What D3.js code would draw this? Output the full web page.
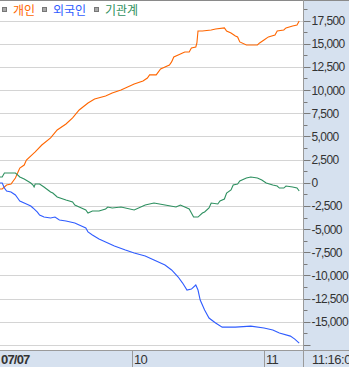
<!DOCTYPE html>
<html>
<head>
<meta charset="utf-8">
<script src="https://cdn.jsdelivr.net/npm/d3@7"></script>
<style>
  body { margin: 0; background: #fff; }
  svg { display: block; }
</style>
</head>
<body>
<svg id="chart" width="349" height="367"></svg>
<script>
// minutes since 09:00 / net buying value
const orange_t = [0, 1, 3, 5, 7, 8, 9, 11, 12, 16, 19, 23, 26, 30, 33, 36, 40, 43, 48, 51, 55, 58, 61, 65, 67, 68, 71, 73, 75, 77, 78, 79, 81, 83, 84, 86, 87, 89, 89.5, 90, 92, 96, 98, 102, 103, 105, 107, 108, 109, 112, 117, 118, 120, 122, 125, 126, 129, 130, 133, 135, 136];
const orange_v = [-670, -670, -240, -130, 510, 1050, 1590, 1910, 2450, 3320, 4070, 4830, 5690, 6340, 6990, 7850, 8600, 9040, 9360, 9680, 10010, 10330, 10650, 10980, 11300, 11630, 11630, 12270, 12490, 12700, 13030, 13570, 13780, 14000, 14110, 14110, 14540, 14650, 15080, 16370, 16370, 16480, 16590, 16700, 16370, 16160, 15830, 15730, 15190, 14860, 14860, 15080, 15400, 15730, 15940, 16370, 16480, 16700, 16910, 17020, 17450];

const blue_t = [0, 1, 2, 3, 5, 7, 8, 9, 11, 14, 15, 17, 18, 20, 23, 25, 27, 30, 32, 34, 36, 39, 40, 42, 45, 48, 52, 57, 61, 66, 70, 75, 78, 81, 83, 85, 87, 89, 90, 91, 93, 95, 98, 101, 107, 114, 120, 124, 127, 132, 134, 136];
const blue_v = [-30, -30, -570, -890, -1000, -1320, -1650, -1970, -2190, -2510, -2720, -3160, -3480, -3700, -3800, -3700, -4020, -4130, -4240, -4340, -4560, -4880, -5310, -5640, -6070, -6390, -6830, -7260, -7580, -7900, -8340, -8880, -9410, -10170, -10820, -11570, -11470, -11030, -11570, -12650, -13730, -14590, -15130, -15570, -15570, -15460, -15670, -15890, -16210, -16540, -16860, -17290];

const green_t = [0, 1, 2, 4, 5, 7, 8, 9, 11, 14, 15, 15.5, 16, 18, 20, 23, 24, 26, 30, 33, 34, 36, 39, 40, 42, 45, 48, 49, 51, 55, 61, 66, 70, 75, 80, 82, 84, 86, 88, 90, 92, 93, 95, 96, 99, 100, 102, 103, 105, 106, 108, 109, 112, 114, 117, 119, 121, 124, 126, 127, 129, 130, 133, 135, 136];
const green_v = [620, 620, 1050, 1050, 1050, 1050, 840, 620, 400, -30, -240, -460, -140, -140, -460, -1000, -1110, -1540, -1860, -2080, -2400, -2620, -2940, -3260, -3050, -3050, -2830, -2620, -2720, -2620, -2940, -2400, -2190, -2400, -2620, -2400, -2620, -2830, -3700, -3700, -3260, -3150, -2720, -2190, -2290, -1970, -1750, -1110, -780, -240, -140, 190, 510, 620, 510, 300, -30, -240, -350, -570, -570, -350, -460, -570, -890];

const series_names = ["개인", "외국인", "기관계"];
const series_colors = ["#ff6600", "#2f5cff", "#2e9060"];

const y_ticks = [-17500, -15000, -12500, -10000, -7500, -5000, -2500, 0, 2500, 5000, 7500, 10000, 12500, 15000, 17500];
const x_ticks = [0, 60, 120];
const x_labels = ["07/07", "10", "11"];
const last_time = "11:16:00";

const W = 349, H = 367;
const plotRight = 303, plotBottom = 350;

const svg = d3.select("#chart");

const x = d3.scaleLinear().domain([0, 60]).range([0, 132]);
const y = d3.scaleLinear().domain([-17500, 17500]).range([345, 20.5]);

// right axis panel + bottom band
svg.append("rect").attr("x", plotRight + 1).attr("y", 0).attr("width", W - plotRight - 1).attr("height", H).attr("fill", "#d6e1ef");
svg.append("rect").attr("x", 0).attr("y", plotBottom + 1).attr("width", W).attr("height", H - plotBottom - 1).attr("fill", "#d6e1ef");

// gridlines
svg.append("g").selectAll("line")
    .data(y_ticks)
    .enter().append("line")
    .attr("x1", 0).attr("x2", plotRight)
    .attr("y1", d => Math.round(y(d)) + 0.5).attr("y2", d => Math.round(y(d)) + 0.5)
    .attr("stroke", "#d4d4d4");

// right axis
const minor = d3.range(-16250, 19000, 2500);
const axisG = svg.append("g").attr("transform", `translate(${plotRight + 0.5},0)`);
axisG.selectAll(".minor").data(minor).enter().append("line")
    .attr("x1", 0).attr("x2", 4)
    .attr("y1", d => Math.round(y(d)) + 0.5).attr("y2", d => Math.round(y(d)) + 0.5)
    .attr("stroke", "#7a7a7a");
axisG.selectAll(".major").data(y_ticks).enter().append("line")
    .attr("x1", 0).attr("x2", 7)
    .attr("y1", d => Math.round(y(d)) + 0.5).attr("y2", d => Math.round(y(d)) + 0.5)
    .attr("stroke", "#7a7a7a");
axisG.selectAll("text").data(y_ticks.filter(d => d > -17500)).enter().append("text")
    .attr("x", 8)
    .attr("y", d => y(d) + 4.5)
    .attr("font-family", "Liberation Sans, Arial, sans-serif")
    .attr("font-size", 12)
    .attr("letter-spacing", -0.6)
    .attr("fill", "#333")
    .text(d => d3.format(",")(d).replace("−", "-"));

// frame lines
svg.append("line").attr("x1", 0).attr("x2", W).attr("y1", 0.5).attr("y2", 0.5).attr("stroke", "#8a8a8a");
svg.append("line").attr("x1", plotRight + 0.5).attr("x2", plotRight + 0.5).attr("y1", 0).attr("y2", H).attr("stroke", "#9a9a9a");
svg.append("line").attr("x1", 0).attr("x2", W).attr("y1", plotBottom + 0.5).attr("y2", plotBottom + 0.5).attr("stroke", "#9a9a9a");

// x axis labels
const xg = svg.append("g");
xg.selectAll("line").data(x_ticks.filter(d => d > 0)).enter().append("line")
    .attr("x1", d => x(d) + 0.5).attr("x2", d => x(d) + 0.5)
    .attr("y1", plotBottom).attr("y2", H)
    .attr("stroke", "#9a9a9a");
xg.selectAll("text").data(x_ticks).enter().append("text")
    .attr("x", d => d === 0 ? 1 : x(d) + 2)
    .attr("y", 364)
    .attr("font-family", "Liberation Sans, Arial, sans-serif")
    .attr("font-size", 13)
    .attr("font-weight", (d, i) => i === 0 ? "bold" : "normal")
    .attr("letter-spacing", -0.8)
    .attr("fill", "#333")
    .text((d, i) => x_labels[i]);
xg.append("text")
    .attr("x", plotRight + 9).attr("y", 364)
    .attr("font-family", "Liberation Sans, Arial, sans-serif")
    .attr("font-size", 13)
    .attr("letter-spacing", -0.5)
    .attr("fill", "#333")
    .text(last_time);

// lines
const line = d3.line().x(d => x(d[0])).y(d => y(d[1]));
const all_series = [
    d3.zip(orange_t, orange_v),
    d3.zip(blue_t, blue_v),
    d3.zip(green_t, green_v)
];
svg.append("g").selectAll("path")
    .data(all_series)
    .enter().append("path")
    .attr("d", line)
    .attr("fill", "none")
    .attr("stroke", (d, i) => series_colors[i])
    .attr("stroke-width", 1.1);

// legend
const legendX = [2, 42, 94];
const legend = svg.append("g").selectAll("g")
    .data(series_names)
    .enter().append("g")
    .attr("transform", (d, i) => `translate(${legendX[i]},0)`);
legend.append("rect")
    .attr("x", 0.5).attr("y", 7.5).attr("width", 4).attr("height", 4)
    .attr("fill", "#a8a8a8").attr("stroke", "#777");
legend.append("text")
    .attr("x", 11).attr("y", 15)
    .attr("font-family", "Noto Sans CJK KR, sans-serif")
    .attr("font-size", 12)
    .attr("fill", (d, i) => series_colors[i])
    .text(d => d);
</script>
</body>
</html>
